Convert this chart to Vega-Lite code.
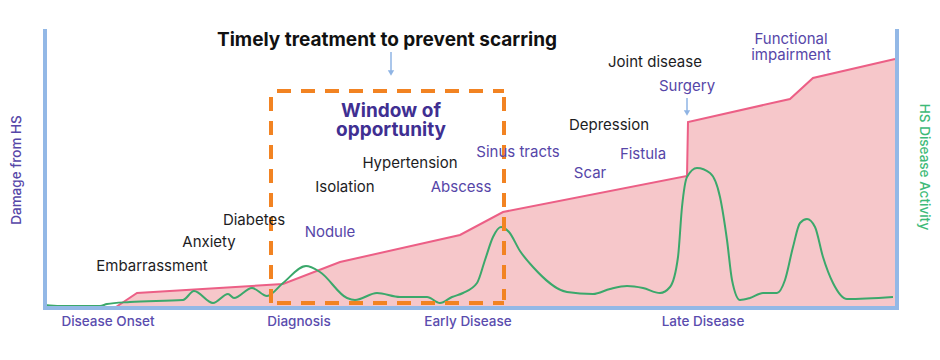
{
  "$schema": "https://vega.github.io/schema/vega-lite/v6.json",
  "width": 940,
  "height": 360,
  "autosize": {"type": "fit", "contains": "padding"},
  "padding": 0,
  "background": "white",
  "config": {"view": {"stroke": null}, "font": "Inter"},
  "datasets": {
    "damage": [
      {"t": 45, "level": 0}, {"t": 116, "level": 0}, {"t": 137, "level": 14}, {"t": 283, "level": 23},
      {"t": 340, "level": 45}, {"t": 460, "level": 72}, {"t": 503, "level": 95}, {"t": 687, "level": 131},
      {"t": 688, "level": 185}, {"t": 790, "level": 208}, {"t": 813, "level": 229}, {"t": 895, "level": 248}
    ],
    "activity": [
      {"t": 45, "level": 2}, {"t": 60, "level": 1}, {"t": 100, "level": 1}, {"t": 107, "level": 3},
      {"t": 130, "level": 5}, {"t": 183, "level": 7}, {"t": 194, "level": 16}, {"t": 213, "level": 4},
      {"t": 228, "level": 13}, {"t": 234, "level": 9}, {"t": 252, "level": 19}, {"t": 267, "level": 11},
      {"t": 283, "level": 24}, {"t": 306, "level": 41}, {"t": 320, "level": 35}, {"t": 347, "level": 9},
      {"t": 355, "level": 7}, {"t": 377, "level": 14}, {"t": 400, "level": 10}, {"t": 427, "level": 10},
      {"t": 440, "level": 4}, {"t": 452, "level": 10}, {"t": 463, "level": 14}, {"t": 477, "level": 24},
      {"t": 485, "level": 47}, {"t": 493, "level": 70}, {"t": 501, "level": 80}, {"t": 509, "level": 75},
      {"t": 520, "level": 56}, {"t": 533, "level": 40}, {"t": 567, "level": 15}, {"t": 593, "level": 13},
      {"t": 610, "level": 18}, {"t": 627, "level": 21}, {"t": 643, "level": 19}, {"t": 660, "level": 14},
      {"t": 670, "level": 20}, {"t": 678, "level": 50}, {"t": 682, "level": 100}, {"t": 687, "level": 130},
      {"t": 697, "level": 139}, {"t": 710, "level": 134}, {"t": 720, "level": 110}, {"t": 727, "level": 67},
      {"t": 732, "level": 27}, {"t": 740, "level": 7}, {"t": 750, "level": 9}, {"t": 763, "level": 14},
      {"t": 777, "level": 14}, {"t": 785, "level": 27}, {"t": 793, "level": 60}, {"t": 800, "level": 84},
      {"t": 807, "level": 88}, {"t": 815, "level": 80}, {"t": 823, "level": 50}, {"t": 833, "level": 24},
      {"t": 847, "level": 8}, {"t": 893, "level": 10}
    ],
    "frame": [
      {"t": 45, "t2": 45, "level": 278, "level2": -1},
      {"t": 897, "t2": 897, "level": 278, "level2": -1},
      {"t": 43, "t2": 899, "level": -1, "level2": -1}
    ],
    "window": [
      {"t": 271, "t2": 504, "level": 216, "level2": 216},
      {"t": 271, "t2": 271, "level": 216, "level2": 4},
      {"t": 504, "t2": 504, "level": 216, "level2": 7},
      {"t": 271, "t2": 504, "level": 4, "level2": 4}
    ],
    "arrows": [
      {"t": 391, "level": 255, "level2": 236, "tip": 234},
      {"t": 687, "level": 209, "level2": 196, "tip": 194}
    ],
    "labels": [
      {"t": 152, "level": 41, "text": "Embarrassment", "kind": "comorbidity"},
      {"t": 209, "level": 65, "text": "Anxiety", "kind": "comorbidity"},
      {"t": 254, "level": 87, "text": "Diabetes", "kind": "comorbidity"},
      {"t": 345, "level": 120, "text": "Isolation", "kind": "comorbidity"},
      {"t": 410, "level": 144, "text": "Hypertension", "kind": "comorbidity"},
      {"t": 609, "level": 182, "text": "Depression", "kind": "comorbidity"},
      {"t": 655, "level": 245, "text": "Joint disease", "kind": "comorbidity"},
      {"t": 330, "level": 75, "text": "Nodule", "kind": "symptom"},
      {"t": 461, "level": 120, "text": "Abscess", "kind": "symptom"},
      {"t": 518, "level": 155, "text": "Sinus tracts", "kind": "symptom"},
      {"t": 590, "level": 134, "text": "Scar", "kind": "symptom"},
      {"t": 643, "level": 153, "text": "Fistula", "kind": "symptom"},
      {"t": 687, "level": 221, "text": "Surgery", "kind": "symptom"},
      {"t": 791, "level": 268.5, "text": "Functional", "kind": "symptom"},
      {"t": 791, "level": 252, "text": "impairment", "kind": "symptom"}
    ],
    "stages": [
      {"t": 108, "level": -15, "text": "Disease Onset"},
      {"t": 299, "level": -15, "text": "Diagnosis"},
      {"t": 468, "level": -15, "text": "Early Disease"},
      {"t": 703, "level": -15, "text": "Late Disease"}
    ],
    "windowTitle": [
      {"t": 391, "level": 196.5, "text": "Window of"},
      {"t": 391, "level": 177, "text": "opportunity"}
    ],
    "title": [
      {"t": 387, "level": 267, "text": "Timely treatment to prevent scarring"}
    ],
    "leftTitle": [{"t": 17, "level": 137, "text": "Damage from HS"}],
    "rightTitle": [{"t": 924, "level": 140, "text": "HS Disease Activity"}]
  },
  "encoding": {
    "x": {"field": "t", "type": "quantitative", "scale": {"domain": [0, 940], "nice": false, "zero": false}, "axis": null},
    "y": {"field": "level", "type": "quantitative", "scale": {"domain": [-53, 307], "nice": false, "zero": false}, "axis": null}
  },
  "layer": [
    {
      "data": {"name": "damage"},
      "mark": {"type": "area", "color": "#f6c7ca", "interpolate": "linear"},
      "encoding": {"y2": {"datum": 0}}
    },
    {
      "data": {"name": "damage"},
      "transform": [{"filter": "datum.t >= 116"}],
      "mark": {"type": "line", "color": "#ec5f86", "strokeWidth": 2, "interpolate": "linear"}
    },
    {
      "data": {"name": "activity"},
      "mark": {"type": "line", "color": "#3ba86b", "strokeWidth": 2, "interpolate": "monotone"}
    },
    {
      "data": {"name": "window"},
      "mark": {"type": "rule", "color": "#f28322", "strokeWidth": 4, "strokeDash": [14, 10], "strokeDashOffset": 18},
      "encoding": {"x2": {"field": "t2"}, "y2": {"field": "level2"}}
    },
    {
      "data": {"name": "frame"},
      "mark": {"type": "rule", "color": "#93b8e6", "strokeWidth": 4},
      "encoding": {"x2": {"field": "t2"}, "y2": {"field": "level2"}}
    },
    {
      "data": {"name": "arrows"},
      "mark": {"type": "rule", "color": "#8fb4e4", "strokeWidth": 1.5},
      "encoding": {"y2": {"field": "level2"}}
    },
    {
      "data": {"name": "arrows"},
      "mark": {"type": "point", "shape": "triangle-down", "filled": true, "color": "#8fb4e4", "size": 40, "opacity": 1},
      "encoding": {"y": {"field": "tip", "type": "quantitative"}}
    },
    {
      "data": {"name": "labels"},
      "mark": {"type": "text", "fontSize": 15, "align": "center", "baseline": "middle"},
      "encoding": {
        "text": {"field": "text"},
        "color": {"field": "kind", "type": "nominal", "scale": {"domain": ["comorbidity", "symptom"], "range": ["#1d1d1f", "#5646a8"]}, "legend": null}
      }
    },
    {
      "data": {"name": "stages"},
      "mark": {"type": "text", "fontSize": 13.5, "fontWeight": 500, "align": "center", "baseline": "middle", "color": "#5a4cae"},
      "encoding": {"text": {"field": "text"}}
    },
    {
      "data": {"name": "windowTitle"},
      "mark": {"type": "text", "fontSize": 19, "fontWeight": "bold", "align": "center", "baseline": "middle", "color": "#3f2f92"},
      "encoding": {"text": {"field": "text"}}
    },
    {
      "data": {"name": "title"},
      "mark": {"type": "text", "fontSize": 19, "fontWeight": "bold", "align": "center", "baseline": "middle", "color": "#111111"},
      "encoding": {"text": {"field": "text"}}
    },
    {
      "data": {"name": "leftTitle"},
      "mark": {"type": "text", "fontSize": 13.5, "fontWeight": 500, "angle": 270, "align": "center", "baseline": "middle", "color": "#5646a8"},
      "encoding": {"text": {"field": "text"}}
    },
    {
      "data": {"name": "rightTitle"},
      "mark": {"type": "text", "fontSize": 13.5, "fontWeight": 500, "angle": 90, "align": "center", "baseline": "middle", "color": "#3dba78"},
      "encoding": {"text": {"field": "text"}}
    }
  ]
}
